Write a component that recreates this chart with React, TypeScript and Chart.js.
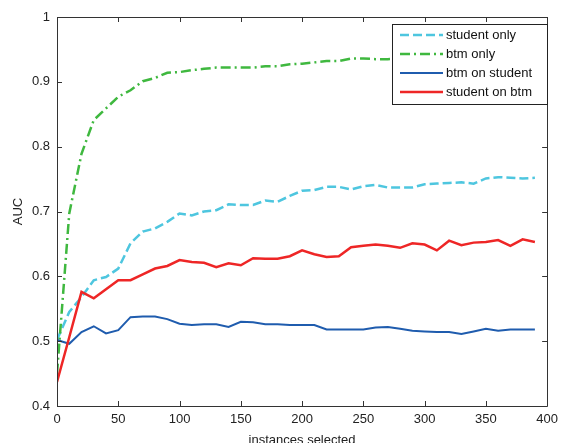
import React, { useEffect, useRef } from "react";
import { Chart, registerables } from "chart.js";

Chart.register(...registerables);

const instances = [0, 10, 20, 30, 40, 50, 60, 70, 80, 90, 100, 110, 120, 130, 140, 150, 160, 170, 180, 190, 200, 210, 220, 230, 240, 250, 260, 270, 280, 290, 300, 310, 320, 330, 340, 350, 360, 370, 380, 390];

const studentOnly = [0.502, 0.545, 0.568, 0.594, 0.599, 0.612, 0.651, 0.669, 0.674, 0.684, 0.697, 0.694, 0.700, 0.702, 0.711, 0.710, 0.710, 0.717, 0.715, 0.724, 0.732, 0.733, 0.738, 0.738, 0.734, 0.739, 0.741, 0.737, 0.737, 0.737, 0.742, 0.743, 0.744, 0.745, 0.743, 0.751, 0.753, 0.752, 0.751, 0.752];

const btmOnly = [0.45, 0.697, 0.789, 0.841, 0.859, 0.877, 0.887, 0.901, 0.906, 0.914, 0.915, 0.918, 0.920, 0.922, 0.922, 0.922, 0.922, 0.924, 0.924, 0.927, 0.928, 0.930, 0.932, 0.932, 0.936, 0.936, 0.935, 0.935, 0.936, 0.937, 0.937, 0.938, 0.938, 0.938, 0.939, 0.939, 0.939, 0.940, 0.940, 0.940];

const btmOnStudent = [0.502, 0.496, 0.514, 0.523, 0.512, 0.517, 0.537, 0.538, 0.538, 0.534, 0.527, 0.525, 0.526, 0.526, 0.522, 0.530, 0.529, 0.526, 0.526, 0.525, 0.525, 0.525, 0.518, 0.518, 0.518, 0.518, 0.521, 0.522, 0.519, 0.516, 0.515, 0.514, 0.514, 0.511, 0.515, 0.519, 0.516, 0.518, 0.518, 0.518];

const studentOnBtm = [0.437, 0.506, 0.576, 0.566, 0.580, 0.594, 0.594, 0.603, 0.612, 0.616, 0.625, 0.622, 0.621, 0.614, 0.620, 0.617, 0.628, 0.627, 0.627, 0.631, 0.640, 0.634, 0.630, 0.631, 0.645, 0.647, 0.649, 0.647, 0.644, 0.651, 0.649, 0.640, 0.655, 0.648, 0.652, 0.653, 0.656, 0.647, 0.657, 0.653];

const seriesLabels = ["student only", "btm only", "btm on student", "student on btm"];
const xTicks = [0, 50, 100, 150, 200, 250, 300, 350, 400];
const yTicks = [0.4, 0.5, 0.6, 0.7, 0.8, 0.9, 1];

const FONT = "'Liberation Sans', Arial, Helvetica, sans-serif";
const AXIS_COLOR = "#333333";

const styles = [
  { color: "#4ec6df", dash: [9, 4], width: 2.5 },
  { color: "#3fb83f", dash: [10, 4, 2, 4], width: 2.5 },
  { color: "#1f5cae", dash: [] as number[], width: 2 },
  { color: "#ee2626", dash: [] as number[], width: 2.5 },
];

const boxPlugin = {
  id: "matlabBox",
  afterDatasetsDraw(chart: any) {
    const { ctx, chartArea } = chart;
    const { left, right, top, bottom } = chartArea;
    const xs = chart.scales.x;
    const ys = chart.scales.y;
    ctx.save();
    ctx.strokeStyle = AXIS_COLOR;
    ctx.lineWidth = 1;
    ctx.setLineDash([]);
    ctx.beginPath();
    ctx.rect(Math.round(left) + 0.5, Math.round(top) + 0.5, Math.round(right - left), Math.round(bottom - top));
    ctx.stroke();
    const tl = 5;
    ctx.beginPath();
    xTicks.forEach((v) => {
      const px = Math.round(xs.getPixelForValue(v)) + 0.5;
      ctx.moveTo(px, bottom);
      ctx.lineTo(px, bottom - tl);
      ctx.moveTo(px, top);
      ctx.lineTo(px, top + tl);
    });
    yTicks.forEach((v) => {
      const py = Math.round(ys.getPixelForValue(v)) + 0.5;
      ctx.moveTo(left, py);
      ctx.lineTo(left + tl, py);
      ctx.moveTo(right, py);
      ctx.lineTo(right - tl, py);
    });
    ctx.stroke();

    // legend
    const lx = 392.5, ly = 24.5, lw = 155, lh = 80;
    ctx.fillStyle = "#ffffff";
    ctx.fillRect(lx, ly, lw, lh);
    ctx.strokeStyle = "#222222";
    ctx.strokeRect(lx, ly, lw, lh);
    const rowY = [35, 54, 73, 92];
    ctx.font = `13px ${FONT}`;
    ctx.textBaseline = "middle";
    ctx.textAlign = "left";
    seriesLabels.forEach((lab, i) => {
      const s = styles[i];
      ctx.strokeStyle = s.color;
      ctx.lineWidth = s.width;
      ctx.setLineDash(s.dash);
      ctx.beginPath();
      ctx.moveTo(400, rowY[i]);
      ctx.lineTo(443, rowY[i]);
      ctx.stroke();
      ctx.setLineDash([]);
      ctx.fillStyle = "#111111";
      ctx.fillText(lab, 446, rowY[i] + 0.5);
    });
    ctx.restore();
  },
};

export default function App() {
  const ref = useRef<HTMLCanvasElement>(null);
  useEffect(() => {
    if (!ref.current) return;
    const seriesData = [studentOnly, btmOnly, btmOnStudent, studentOnBtm];
    const chart = new Chart(ref.current, {
      type: "line",
      data: {
        labels: instances,
        datasets: seriesData.map((d, i) => ({
          label: seriesLabels[i],
          data: d.map((v, j) => ({ x: instances[j], y: v })),
          borderColor: styles[i].color,
          borderWidth: styles[i].width,
          borderDash: styles[i].dash,
          pointRadius: 0,
          tension: 0,
          fill: false,
          order: 4 - i,
        })),
      },
      options: {
        animation: false,
        responsive: false,
        maintainAspectRatio: false,
        layout: { padding: { top: 17, right: 14, left: 0, bottom: 0 } },
        plugins: { legend: { display: false }, tooltip: { enabled: false } },
        scales: {
          x: {
            type: "linear",
            min: 0,
            max: 400,
            afterFit: (s: any) => { s.height = 37; },
            afterBuildTicks: (s: any) => { s.ticks = xTicks.map((v) => ({ value: v })); },
            grid: { display: false, drawTicks: false },
            border: { display: false },
            ticks: { padding: 6, color: "#222", font: { family: FONT, size: 13 }, maxRotation: 0, autoSkip: false },
            title: { display: true, text: "instances selected", color: "#222", font: { family: FONT, size: 13, lineHeight: 1 }, padding: { top: 0, bottom: -4 } },
          },
          y: {
            type: "linear",
            min: 0.4,
            max: 1,
            afterFit: (s: any) => { s.width = 57; },
            afterBuildTicks: (s: any) => { s.ticks = yTicks.map((v) => ({ value: v })); },
            grid: { display: false, drawTicks: false },
            border: { display: false },
            ticks: {
              padding: 7,
              color: "#222",
              font: { family: FONT, size: 13 },
              autoSkip: false,
              callback: (v: any) => String(Number(Number(v).toFixed(1))),
            },
            title: { display: true, text: "AUC", color: "#222", font: { family: FONT, size: 13, lineHeight: 1 }, padding: { top: 12, bottom: 0 } },
          },
        },
      },
      plugins: [boxPlugin],
    });
    return () => chart.destroy();
  }, []);
  return (
    <div style={{ position: "fixed", left: 0, top: 0, width: 564, height: 443, background: "#fff" }}>
      <canvas ref={ref} width={564} height={443} style={{ width: 564, height: 443 }} />
    </div>
  );
}
